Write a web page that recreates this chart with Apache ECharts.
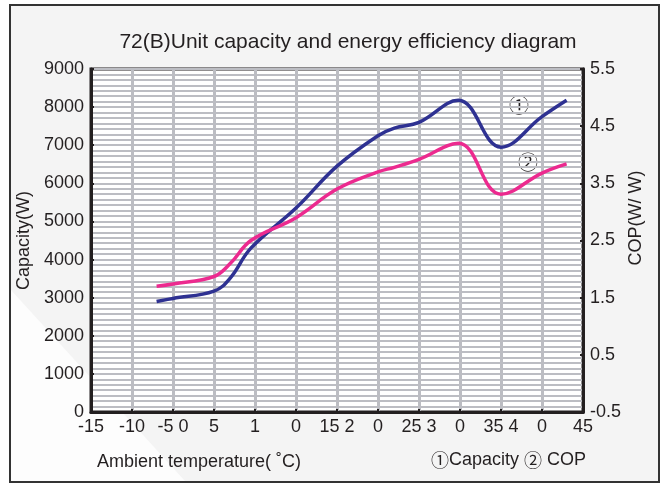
<!DOCTYPE html>
<html>
<head>
<meta charset="utf-8">
<script src="https://cdn.jsdelivr.net/npm/echarts@6/dist/echarts.min.js"></script>
<style>
  html, body { margin: 0; padding: 0; background: #fff; }
  #main { width: 664px; height: 486px; }
</style>
</head>
<body>
<div id="main"></div>
<script>
// 温度刻度（原图标签有错位，照原样写）
var tickLabels = ["-15", "-10", "-5 0", "5", "1", "0", "15 2", "0", "25 3", "0", "35 4", "0", "45"];

// 环境温度
var temps = [-7, -5, 0, 2, 4.5, 10, 15, 20, 22, 25, 29.8, 35, 40, 43];
// ① 制热量 (W)
var capacity = [2900, 2980, 3170, 3520, 4300, 5350, 6450, 7250, 7450, 7600, 8180, 6950, 7750, 8180];
// ② COP
var cop = [1.70, 1.74, 1.87, 2.10, 2.50, 2.90, 3.40, 3.70, 3.78, 3.92, 4.20, 3.31, 3.68, 3.84];

var font = "'Liberation Sans', 'Noto Sans CJK SC', sans-serif";
var cjk = "'Noto Sans CJK SC', sans-serif";
var gridColor = "#bcbdc3";
var ink = "#231f20";

var myChart = echarts.init(document.getElementById("main"));

var option = {
  backgroundColor: "#fff",
  animation: false,
  title: {
    text: "72(B)Unit capacity and energy efficiency diagram",
    left: 343,
    textAlign: "center",
    top: 27,
    textStyle: { fontFamily: font, fontSize: 21, fontWeight: "normal", color: ink }
  },
  graphic: [
    // 外框 + 浅灰底
    {
      type: "rect", z: -10, silent: true,
      shape: { x: 10, y: 5, width: 649, height: 477 },
      style: { fill: "#f4f4f4", stroke: "#333", lineWidth: 2 }
    },
    // 左下角的白色斜块
    {
      type: "polygon", z: -9, silent: true,
      shape: { points: [[11, 290], [11, 481], [185, 481]] },
      style: { fill: "#fdfdfd" }
    },
    {
      type: "text", left: 97, top: 453,
      style: { text: "Ambient temperature( ˚C)", font: "18px " + font, fill: ink }
    },
    {
      type: "text", left: 431, top: 451,
      style: {
        text: "{c|①}Capacity {c|②} COP",
        font: "18px " + font, fill: ink,
        rich: { c: { fontFamily: cjk, fontSize: 18, fill: ink } }
      }
    },
    {
      type: "text", x: 636, y: 218, rotation: Math.PI / 2,
      style: { text: "COP(W/ W)", font: "18px " + font, fill: ink, align: "center", verticalAlign: "middle" }
    },
    {
      type: "text", x: 519, y: 105,
      style: { text: "①", font: "20px " + cjk, fill: ink, align: "center", verticalAlign: "middle" }
    },
    {
      type: "text", x: 528, y: 162,
      style: { text: "②", font: "20px " + cjk, fill: ink, align: "center", verticalAlign: "middle" }
    }
  ],
  grid: {
    left: 91, right: 81, top: 69, bottom: 74,
    show: true, backgroundColor: "#fff", borderColor: ink, borderWidth: 3
  },
  xAxis: {
    type: "value",
    min: -15, max: 45, interval: 5,
    axisLine: { show: true, onZero: false, lineStyle: { color: ink, width: 3 } },
    axisTick: { show: true, inside: true, length: 3, lineStyle: { color: ink, width: 2 } },
    axisLabel: {
      margin: 6, fontFamily: font, fontSize: 18, color: ink,
      formatter: function (v) { return tickLabels[Math.round((v + 15) / 5)]; }
    },
    splitLine: { show: true, lineStyle: { color: gridColor, width: 3 } }
  },
  yAxis: [
    {
      type: "value",
      name: "Capacity(W)",
      nameLocation: "middle",
      nameGap: 58,
      nameTextStyle: { fontFamily: font, fontSize: 18, color: ink },
      min: 0, max: 9000, interval: 1000,
      axisLine: { show: true, onZero: false, lineStyle: { color: ink, width: 3 } },
      axisTick: { show: true, inside: true, length: 3, lineStyle: { color: ink, width: 2 } },
      axisLabel: {
        margin: 7, fontFamily: font, fontSize: 18, color: ink,
        formatter: function (v) { return String(v); }
      },
      splitLine: { show: true, lineStyle: { color: gridColor, width: 2 } },
      minorTick: { show: false, splitNumber: 7 },
      minorSplitLine: { show: true, lineStyle: { color: gridColor, width: 2 } }
    },
    {
      type: "value",
      position: "right",
      min: -0.5, max: 5.5, interval: 1,
      axisLine: { show: true, onZero: false, lineStyle: { color: ink, width: 3 } },
      axisTick: { show: true, inside: true, length: 3, lineStyle: { color: ink, width: 2 } },
      axisLabel: {
        margin: 7, fontFamily: font, fontSize: 18, color: ink,
        formatter: function (v) { return v.toFixed(1); }
      },
      splitLine: { show: false }
    }
  ],
  series: [
    {
      name: "Capacity",
      type: "line",
      yAxisIndex: 0,
      smooth: 0.4,
      showSymbol: false,
      lineStyle: { color: "#2e3192", width: 3.5 },
      data: temps.map(function (t, i) { return [t, capacity[i]]; })
    },
    {
      name: "COP",
      type: "line",
      yAxisIndex: 1,
      smooth: 0.4,
      showSymbol: false,
      lineStyle: { color: "#ec2a8f", width: 3.5 },
      data: temps.map(function (t, i) { return [t, cop[i]]; })
    }
  ]
};

myChart.setOption(option);
</script>
</body>
</html>
